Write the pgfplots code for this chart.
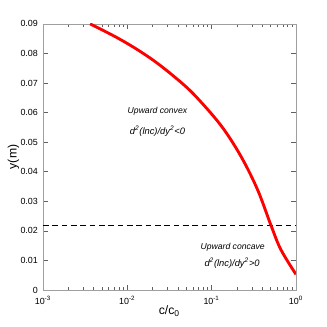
\documentclass[border=0pt]{standalone}
\usepackage{fontspec}
\setmainfont{Liberation Sans}
\usepackage{pgfplots}
\pgfplotsset{compat=1.18}

\begin{document}
\begin{tikzpicture}
\begin{axis}[
  name=ax,
  scale only axis,
  width=6.19cm, height=6.51cm,
  xmode=log,
  xmin=1e-3, xmax=1, ymin=0, ymax=0.09,
  scaled y ticks=false,
  xtick={0.001,0.01,0.1,1},
  xticklabels={10\textsuperscript{-3},10\textsuperscript{-2},10\textsuperscript{-1},10\textsuperscript{0}},
  ytick={0,0.01,0.02,0.03,0.04,0.05,0.06,0.07,0.08,0.09},
  yticklabels={0,0.01,0.02,0.03,0.04,0.05,0.06,0.07,0.08,0.09},
  tick label style={font=\fontsize{6.2}{7}\selectfont, black},
  xticklabel style={yshift=-1pt},
  tick align=inside,
  major tick length=3.5pt, minor tick length=2pt,
  axis line style={gray!75},
  every tick/.style={gray!75!black},
  xlabel={c/c\textsubscript{0}}, ylabel={y(m)},
  label style={font=\fontsize{8.5}{10}\selectfont},
  xlabel style={yshift=6pt},
  ylabel style={yshift=-6pt},
]
% boundary between the two regions
\addplot[black, dashed, dash pattern=on 4pt off 2.5pt, line width=0.6pt] coordinates {(1e-3,0.022) (1,0.022)};
% concentration profile
\addplot[red, line width=2pt, smooth, tension=0.55] coordinates {
  (0.00363,0.0900) (0.00687,0.0860) (0.0119,0.0821) (0.0206,0.0776)
  (0.0356,0.0723) (0.0615,0.0662) (0.128,0.0558) (0.221,0.0454)
  (0.350,0.0340) (0.504,0.0220) (0.662,0.0137) (1.0,0.0053)
};
\node[font=\itshape\fontsize{6}{7}\selectfont] at (axis cs:0.0228,0.0605) {Upward convex};
\node[font=\itshape\fontsize{6.5}{7}\selectfont] at (axis cs:0.0228,0.0537) {d\textsuperscript{2}(lnc)/dy\textsuperscript{2}<0};
\node[font=\itshape\fontsize{6}{7}\selectfont] at (axis cs:0.178,0.0144) {Upward concave};
\node[font=\itshape\fontsize{6.5}{7}\selectfont] at (axis cs:0.175,0.0090) {d\textsuperscript{2}(lnc)/dy\textsuperscript{2}>0};
\end{axis}
\pgfresetboundingbox
\path (ax.south west) ++(-1.05cm,-0.905cm) rectangle ++(8cm,8cm);
\end{tikzpicture}
\end{document}
